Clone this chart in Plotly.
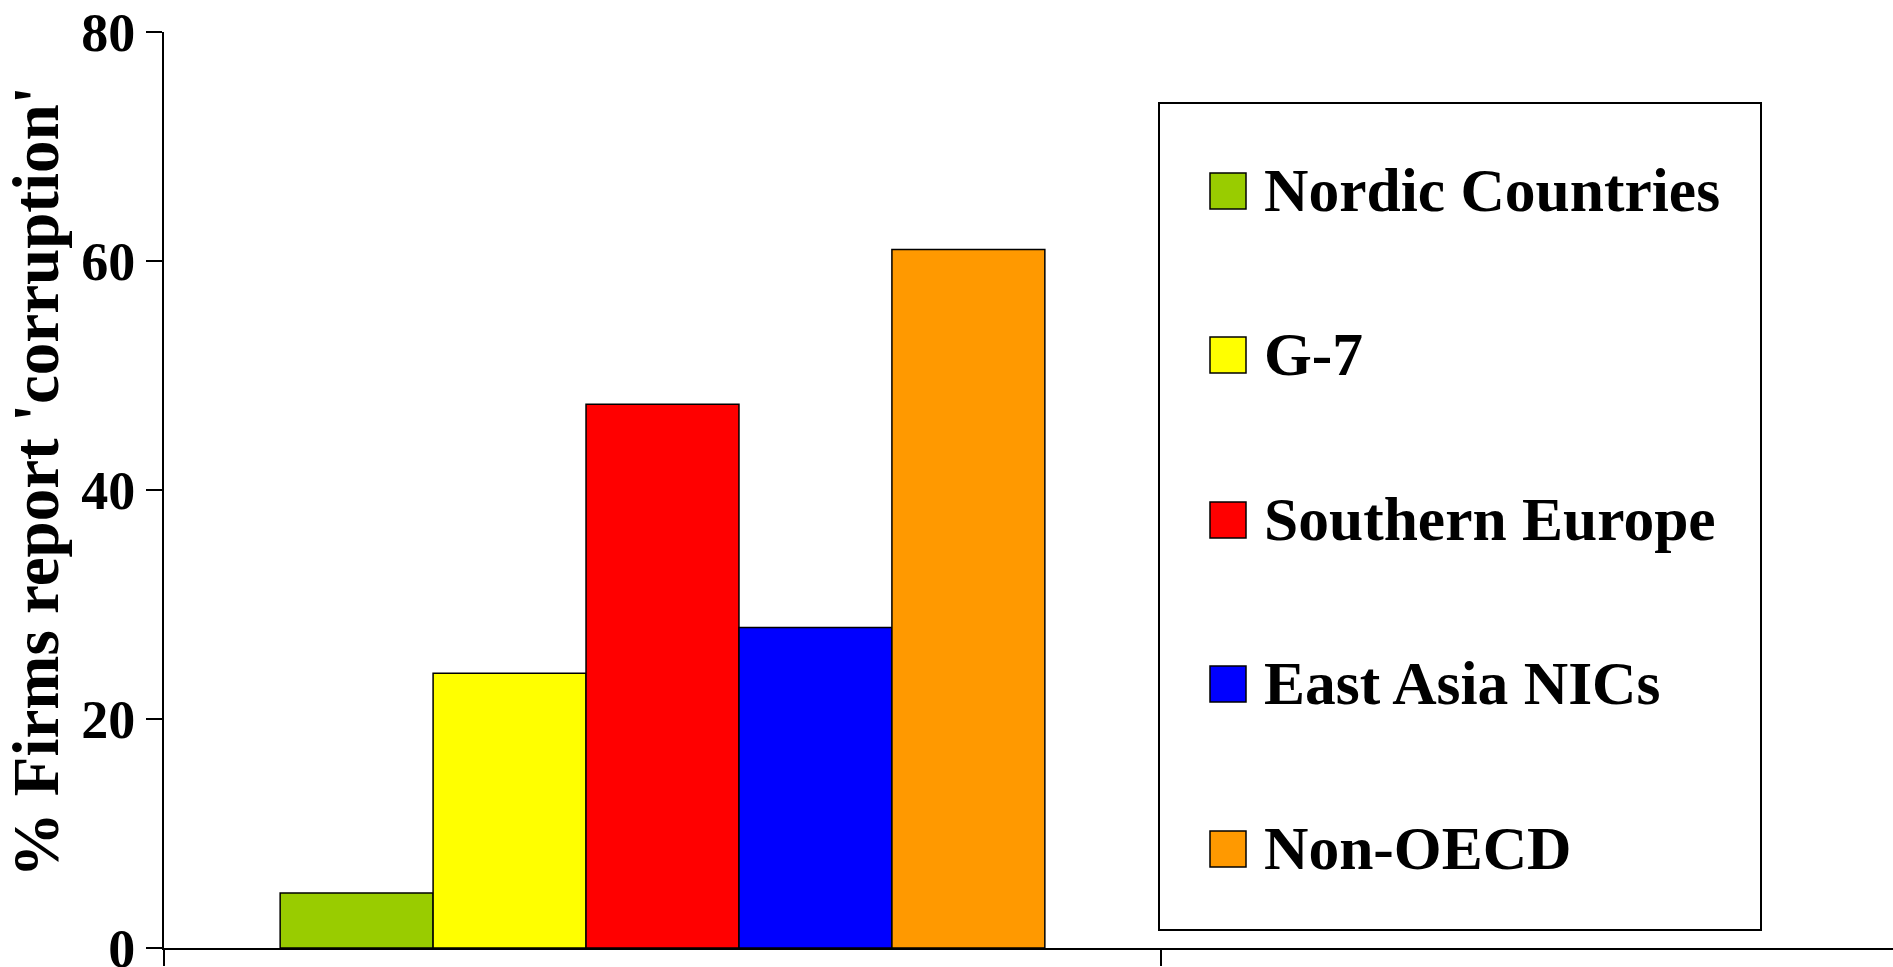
import plotly.graph_objects as go

# Share of firms reporting corruption, by country group
groups = ["Nordic Countries", "G-7", "Southern Europe", "East Asia NICs", "Non-OECD"]
pct_corruption = [4.8, 24, 47.5, 28, 61]
colors = ["#99cc00", "#ffff00", "#ff0000", "#0000ff", "#ff9900"]

y_ticks = [0, 20, 40, 60, 80]

W, H = 1893, 967
ML, MR, MT, MB = 164, 0, 32, 19
PW, PH = W - ML - MR, H - MT - MB

FONT = "Liberation Serif, Times New Roman, serif"


def px_x(px):
    return (px - ML) / PW


def px_y(py):
    return (H - MB - py) / PH


fig = go.Figure()
for name, val, col in zip(groups, pct_corruption, colors):
    fig.add_trace(go.Bar(
        x=[0], y=[val], name=name,
        marker=dict(color=col, line=dict(color="black", width=1.5)),
        showlegend=False, hoverinfo="name+y",
    ))

# legend box drawn as a framed panel with a coloured key per group
fig.add_shape(type="rect", xref="paper", yref="paper",
              x0=px_x(1159), x1=px_x(1761), y0=px_y(930), y1=px_y(103),
              line=dict(color="black", width=2), fillcolor="white", layer="above")

row_y = [191, 355, 520, 684, 849]
for name, col, cy in zip(groups, colors, row_y):
    fig.add_shape(type="rect", xref="paper", yref="paper",
                  x0=px_x(1210), x1=px_x(1246), y0=px_y(cy + 18), y1=px_y(cy - 18),
                  line=dict(color="black", width=1.5), fillcolor=col, layer="above")
    fig.add_annotation(xref="paper", yref="paper", x=px_x(1262), y=px_y(cy - 1),
                       text=f"<b>{name}</b>", showarrow=False,
                       xanchor="left", yanchor="middle",
                       font=dict(family=FONT, size=61.5, color="black"))

fig.update_layout(
    width=W, height=H,
    margin=dict(l=ML, r=MR, t=MT, b=MB, pad=0, autoexpand=False),
    paper_bgcolor="white", plot_bgcolor="white",
    barmode="group", bargap=0.233, bargroupgap=0,
    showlegend=False,
    font=dict(family=FONT, color="black"),
)
fig.update_xaxes(
    type="linear", range=[-0.5, -0.5 + PW / 997],
    tickmode="array", tickvals=[-0.5, 0.5], showticklabels=False,
    ticks="outside", ticklen=16, tickwidth=2, tickcolor="black",
    showline=True, linecolor="black", linewidth=2,
    showgrid=False, zeroline=False, automargin=False,
)
fig.update_yaxes(
    range=[0, 80], tickmode="array", tickvals=y_ticks,
    ticktext=[f"<b>{t}</b>" for t in y_ticks],
    ticks="outside", ticklen=16, tickwidth=2, tickcolor="black",
    tickfont=dict(family=FONT, size=54, color="black"),
    ticklabeloverflow="allow",
    showline=True, linecolor="black", linewidth=2,
    showgrid=False, zeroline=False, automargin=False,
    title=dict(text="<b>\u00a0% Firms report 'corruption'</b>",
               font=dict(family=FONT, size=65, color="black"), standoff=4),
)

fig.write_html("out.html")
